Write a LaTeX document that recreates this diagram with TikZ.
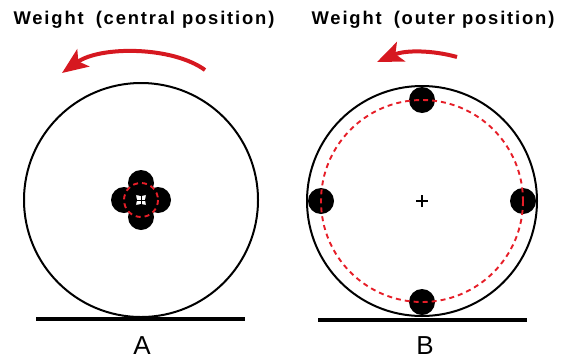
\documentclass[tikz,border=0pt]{standalone}
\usepackage{fontspec}
\setmainfont{Liberation Sans}
\newfontfamily\headfont[LetterSpace=10]{Liberation Sans}
\usetikzlibrary{arrows.meta,positioning}
\definecolor{turnred}{RGB}{214,24,32}
\definecolor{trackred}{RGB}{230,30,40}

\begin{document}
\begin{tikzpicture}[x=1pt, y=-1pt,
  wheel/.style={draw, circle, line width=2pt, minimum size=#1, inner sep=0pt},
  weight/.style={circle, fill=black, minimum size=26pt, inner sep=0pt},
  track/.style={trackred, line width=1.9pt, dash pattern=on 5pt off 4pt},
  ground/.style={line width=4.5pt},
  turn/.style={turnred, line width=4pt, -{Stealth[length=26pt, width=21pt, inset=6pt]}},
  title/.style={font=\headfont\bfseries\fontsize{18.4}{21}\selectfont},
  tag/.style={font=\fontsize{26}{28}\selectfont}
]
  \useasboundingbox (0,0) rectangle (561,359);

  % A: weights near the centre
  \node[wheel=234pt] (wheelA) at (141,200) {};
  \foreach \a in {0,90,180,270}
    \node[weight] (wA\a) at ([shift={(\a:17)}]wheelA.center) {};
  \draw[track] (wheelA.center) circle[radius=17];
  \draw[line width=1pt] ([xshift=-4pt]wheelA.center) -- ([xshift=4pt]wheelA.center)
                        ([yshift=-4pt]wheelA.center) -- ([yshift=4pt]wheelA.center);
  \draw[ground] ([xshift=-105pt, yshift=-1pt]wheelA.south) -- ([xshift=104pt, yshift=-1pt]wheelA.south);
  \node[tag] (tagA) at (142,346) {A};
  \node[title] (titleA) at (144,20) {Weight\hspace{12pt}(central position)};
  \coordinate (tailA) at (205,70);
  \coordinate (tipA) at (62,73);
  \draw[turn] (tailA) .. controls (172,46) and (100,46) .. (tipA);

  % B: weights on the rim
  \node[wheel=230pt] (wheelB) at (422,201) {};
  \foreach \a in {0,90,180,270}
    \node[weight] (wB\a) at ([shift={(\a:101)}]wheelB.center) {};
  \draw[track] (wheelB.center) circle[radius=101];
  \draw[line width=1.5pt] ([xshift=-6pt]wheelB.center) -- ([xshift=6pt]wheelB.center)
                          ([yshift=-6pt]wheelB.center) -- ([yshift=6pt]wheelB.center);
  \draw[ground] ([xshift=-104pt, yshift=-3pt]wheelB.south) -- ([xshift=105pt, yshift=-3pt]wheelB.south);
  \node[tag] (tagB) at (425,346) {B};
  \node[title] (titleB) at (433,20) {Weight\hspace{12pt}(outer position)};
  \coordinate (tailB) at (457,57);
  \coordinate (tipB) at (377,62);
  \draw[turn] (tailB) .. controls (432,50) and (405,50) .. (tipB);
\end{tikzpicture}
\end{document}
